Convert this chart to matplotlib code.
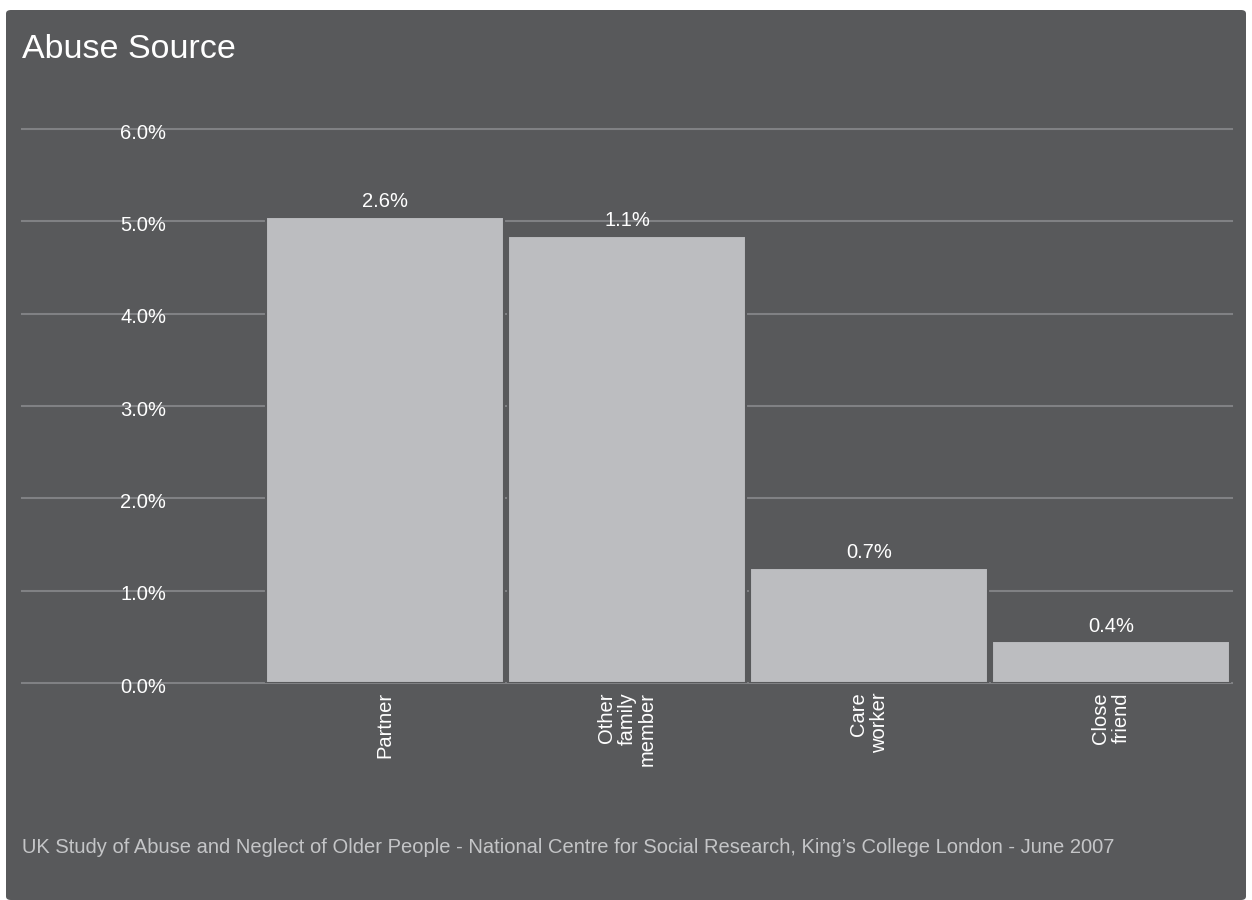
import matplotlib
matplotlib.use("Agg")
import matplotlib.pyplot as plt
from matplotlib.patches import FancyBboxPatch

# ---- data ----
categories = ["Partner", "Other\nfamily\nmember", "Care\nworker", "Close\nfriend"]
bar_heights = [5.05, 4.84, 1.25, 0.45]
value_labels = ["2.6%", "1.1%", "0.7%", "0.4%"]
y_ticks = [0, 1, 2, 3, 4, 5, 6]
y_tick_labels = ["0.0%", "1.0%", "2.0%", "3.0%", "4.0%", "5.0%", "6.0%"]
title = "Abuse Source"
footer = ("UK Study of Abuse and Neglect of Older People - National Centre for "
          "Social Research, King\u2019s College London - June 2007")

# ---- style ----
BG = "#58595b"
BAR = "#bcbdc0"
GRID = "#808184"
TXT = "#ffffff"
FOOT = "#c4c5c7"
plt.rcParams["font.family"] = ["Liberation Sans", "DejaVu Sans"]

W, H = 1252, 900
fig = plt.figure(figsize=(W / 100, H / 100), dpi=100, facecolor="white")

# dark panel with rounded corners
panel = FancyBboxPatch((6 / W, 0), 1240 / W, 890 / H,
                       boxstyle="round,pad=0,rounding_size=0.004",
                       transform=fig.transFigure, facecolor=BG, edgecolor="none",
                       zorder=-10)
fig.patches.append(panel)

# axes: x 22..1232 px, y0 at 683 px, y6 at 129 px
ax = fig.add_axes([22 / W, (H - 683) / H, 1210 / W, (683 - 129) / H])
ax.set_zorder(1)
ax.set_facecolor("none")
ax.set_xlim(-1.5, 3.5)
ax.set_ylim(0, 6)
for s in ax.spines.values():
    s.set_visible(False)

# gridlines
for t in y_ticks:
    ax.axhline(t, color=GRID, lw=1.5, zorder=1, clip_on=False)

x = list(range(len(categories)))
ax.bar(x, bar_heights, width=0.983, color=BAR, edgecolor=BG, linewidth=1.5, zorder=2)

# value labels
for xi, h, lab in zip(x, bar_heights, value_labels):
    ax.annotate(lab, (xi, h), xytext=(0, 7), textcoords="offset points",
                ha="center", va="baseline", color=TXT, fontsize=14.5, zorder=4)

# y tick labels drawn inside the plot
ax.set_yticks([])
for t, lab in zip(y_ticks, y_tick_labels):
    ax.annotate(lab, (-1.0, t), xytext=(0, -3), textcoords="offset points",
                ha="center", va="center", color=TXT, fontsize=14.5,
                zorder=3, annotation_clip=False)

# category labels
ax.set_xticks(x)
ax.set_xticklabels(categories, rotation=90, ha="center", va="top",
                   multialignment="right", color=TXT, fontsize=14.5,
                   linespacing=1.1)
ax.tick_params(axis="x", length=0, pad=6.5)

# title and footer
fig.text(22 / W, 1 - 58 / H, title, ha="left", va="baseline", color=TXT,
         fontsize=24.5)
fig.text(22 / W, 1 - 853 / H, footer, ha="left", va="baseline", color=FOOT,
         fontsize=14.5)

fig.savefig("out.png", dpi=100, facecolor="white")
